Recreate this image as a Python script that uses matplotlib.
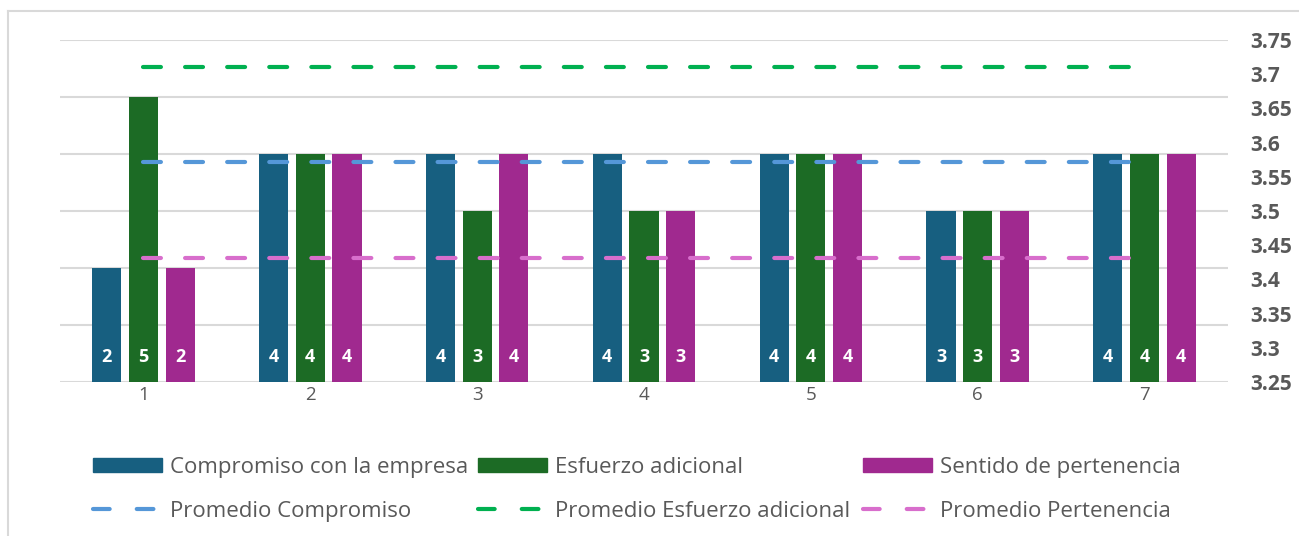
import matplotlib
matplotlib.use("Agg")
import matplotlib.pyplot as plt
import numpy as np
from matplotlib.lines import Line2D
from matplotlib.patches import Patch

categories = ["1", "2", "3", "4", "5", "6", "7"]
compromiso = [3.4, 3.6, 3.6, 3.6, 3.6, 3.5, 3.6]
esfuerzo = [3.7, 3.6, 3.5, 3.5, 3.6, 3.5, 3.6]
pertenencia = [3.4, 3.6, 3.6, 3.5, 3.6, 3.5, 3.6]
lbl_compromiso = ["2", "4", "4", "4", "4", "3", "4"]
lbl_esfuerzo = ["5", "4", "3", "3", "4", "3", "4"]
lbl_pertenencia = ["2", "4", "4", "3", "4", "3", "4"]
prom_compromiso = 3.571
prom_esfuerzo = 3.71
prom_pertenencia = 3.431
right_ticks = [3.25, 3.3, 3.35, 3.4, 3.45, 3.5, 3.55, 3.6, 3.65, 3.7, 3.75]

C_BLUE = "#175F80"
C_GREEN = "#1C6B25"
C_PURPLE = "#A0298F"
D_BLUE = "#5597D8"
D_GREEN = "#00B050"
D_PINK = "#D86ECC"
GRAY = "#595959"
GRID = "#D9D9D9"

FONT = ["Open Sans", "DejaVu Sans"]
plt.rcParams["font.family"] = FONT

W, H = 1299, 536
fig = plt.figure(figsize=(W / 100, H / 100), dpi=100)
ax = fig.add_axes([60 / W, 1 - 382 / H, (1228 - 60) / W, (382 - 40) / H])

x = np.arange(1, len(categories) + 1)
off = 0.22
bw = 0.175
series = [(compromiso, C_BLUE, lbl_compromiso, "Compromiso con la empresa"),
          (esfuerzo, C_GREEN, lbl_esfuerzo, "Esfuerzo adicional"),
          (pertenencia, C_PURPLE, lbl_pertenencia, "Sentido de pertenencia")]
for i, (vals, col, lbls, name) in enumerate(series):
    xs = x + (i - 1) * off
    ax.bar(xs, vals, width=bw, color=col, zorder=3)
    for xx, t in zip(xs, lbls):
        ax.text(xx, 3.244, t, color="white", fontsize=13, fontweight="bold",
                ha="center", va="center", zorder=4)

ax.set_xlim(0.5, 7.5)
ax.set_ylim(3.2, 3.8)
ax.set_yticks(np.arange(3.2, 3.81, 0.1))
ax.yaxis.grid(True, color=GRID, linewidth=1.5, zorder=0)
ax.set_xticks(x)
ax.set_xticklabels(categories, color=GRAY, fontsize=13.5)
ax.tick_params(axis="x", length=0, pad=3)
for s in ax.spines.values():
    s.set_visible(False)

ax2 = ax.twinx()
ax.tick_params(axis="y", left=False, right=False, labelleft=False, labelright=False)
ax2.set_ylim(3.25, 3.75)
ax2.set_yticks(right_ticks)
ax2.set_yticklabels([f"{v:g}" for v in right_ticks], color=GRAY,
                    fontsize=15, fontweight="bold")
ax2.tick_params(axis="y", length=0, pad=16)
for s in ax2.spines.values():
    s.set_visible(False)

lw = 3.0
dash = (4.3, 5.8)
for val, col in [(prom_compromiso, D_BLUE), (prom_esfuerzo, D_GREEN),
                 (prom_pertenencia, D_PINK)]:
    ax2.plot([x[0], x[-1]], [val, val], color=col, linewidth=lw,
             linestyle=(0, dash), dash_capstyle="round", zorder=5)

# legends
fs = 16
def dline(c):
    return Line2D([0], [0], color=c, linewidth=lw, linestyle=(0, (4.0, 6.5)),
                  dash_capstyle="round")

cols = [
    (Patch(color=C_BLUE), "Compromiso con la empresa", dline(D_BLUE), "Promedio Compromiso", 93),
    (Patch(color=C_GREEN), "Esfuerzo adicional", dline(D_GREEN), "Promedio Esfuerzo adicional", 478),
    (Patch(color=C_PURPLE), "Sentido de pertenencia", dline(D_PINK), "Promedio Pertenencia", 863),
]
for h1, t1, h2, t2, px in cols:
    leg = fig.legend([h1, h2], [t1, t2], loc="upper left",
                     bbox_to_anchor=(px / W, 1 - 457 / H), frameon=False,
                     fontsize=fs, handlelength=3.1, handleheight=0.55,
                     handletextpad=0.38, labelspacing=1.02, borderpad=0,
                     borderaxespad=0)
    for t in leg.get_texts():
        t.set_color(GRAY)

# chart border
fig.add_artist(Line2D([8 / W, 1], [1 - 11 / H, 1 - 11 / H], color=GRID, linewidth=1.5))
fig.add_artist(Line2D([8 / W, 8 / W], [0, 1 - 11 / H], color=GRID, linewidth=1.5))

fig.savefig("out.png", dpi=100)
